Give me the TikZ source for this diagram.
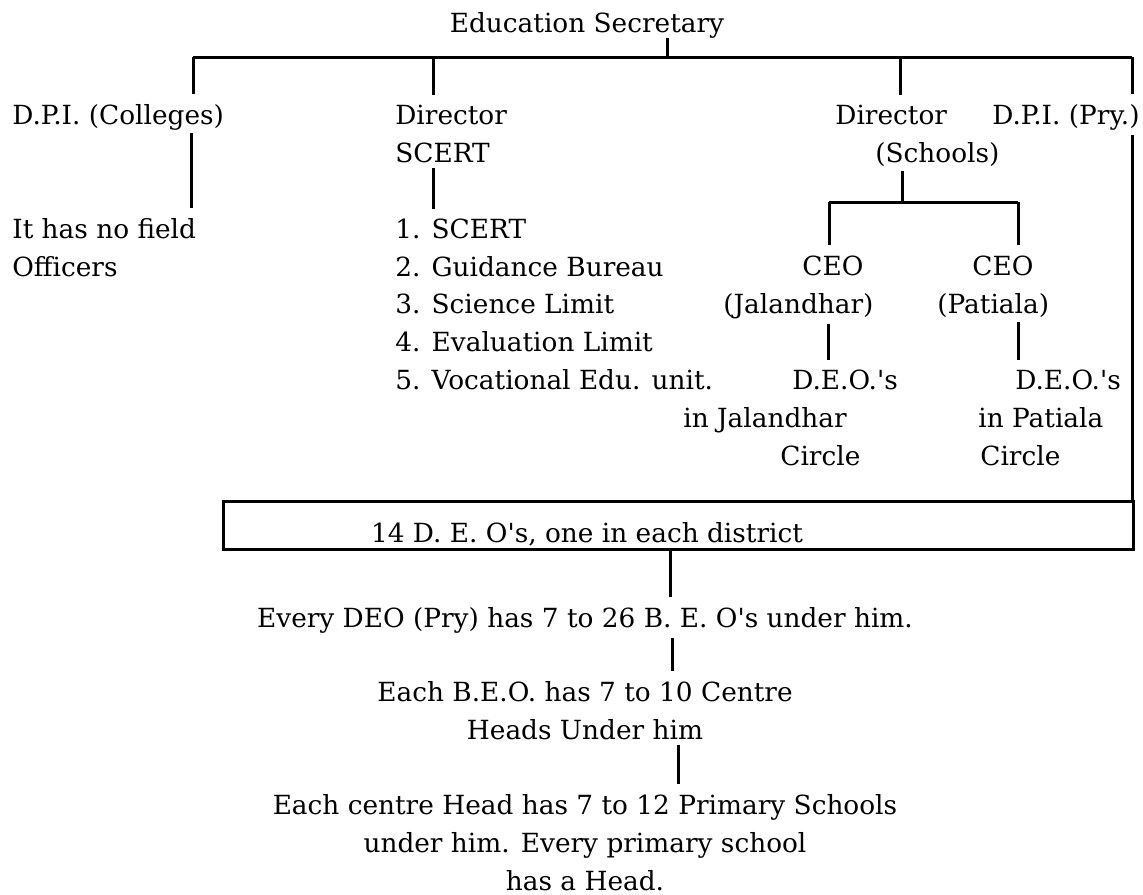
\documentclass[tikz,border=0pt]{standalone}
\usepackage{fontspec}
\setmainfont{DejaVu Serif}
\begin{document}
\begin{tikzpicture}[x=0.2mm,y=-0.2mm,font=\fontsize{15}{21.4}\selectfont]
    \tikzstyle{lbl}=[inner sep=0pt,anchor=base west,align=left]
    \tikzstyle{mid}=[inner sep=0pt,anchor=base,align=center]
    \tikzstyle{tie}=[line width=0.6mm]
    \useasboundingbox (0,0) rectangle (1143,894);

    % texts (multi-line nodes sit on the baseline of their last line)
    \node[mid] (sec) at (587,32) {Education Secretary};
    \node[lbl] (dpic) at (12,124) {D.P.I. (Colleges)};
    \node[lbl] (dirS) at (395,162) {Director\\SCERT};
    \node[lbl] (dirC) at (835,162) {Director\\\hspace*{8mm}(Schools)};
    \node[lbl] (dpip) at (992,124) {D.P.I. (Pry.)};
    \node[lbl] (nofield) at (12,276) {It has no field\\Officers};
    \node[lbl] (units) at (395,389) {1. SCERT\\2. Guidance Bureau\\3. Science Limit\\4. Evaluation Limit\\5. Vocational Edu. unit.};
    \node[lbl] (ceoJ) at (723,313) {\hspace*{15.8mm}CEO\\(Jalandhar)};
    \node[lbl] (ceoP) at (937,313) {\hspace*{7mm}CEO\\(Patiala)};
    \node[lbl] (deoJ) at (683,465) {\hspace*{21.8mm}D.E.O.\textquotesingle s\\in Jalandhar\\\hspace*{19.4mm}Circle};
    \node[lbl] (deoP) at (978,465) {\hspace*{7.4mm}D.E.O.\textquotesingle s\\in Patiala\\\hspace*{0.4mm}Circle};
    \node[draw,line width=0.6mm,inner sep=0pt,minimum width=181.8mm,minimum height=9.6mm] (distbox) at (678.5,525) {};
    \node[mid] (dist) at (587,542) {14 D. E. O\textquotesingle s, one in each district};
    \node[mid] (every) at (585,627) {Every DEO (Pry) has 7 to 26 B. E. O\textquotesingle s under him.};
    \node[mid] (beo) at (585,739) {Each B.E.O. has 7 to 10 Centre\\Heads Under him};
    \node[mid] (centre) at (585,890) {Each centre Head has 7 to 12 Primary Schools\\under him. Every primary school\\has a Head.};

    % top bus
    \coordinate (busT) at (667,57);
    \coordinate (busA) at (193,57);
    \coordinate (busB) at (433,57);
    \coordinate (busC) at (900,57);
    \coordinate (busD) at (1132,57);
    \draw[tie] (busA) -- (busD);
    \draw[tie] (sec.south -| busT) -- (busT);
    \foreach \c/\n in {busA/dpic,busB/dirS,busC/dirC,busD/dpip}
        \draw[tie,shorten >=2mm] (\c) -- (\c |- \n.north);

    % second level
    \coordinate (colA) at (191,0);
    \draw[tie,shorten <=0.6mm,shorten >=2mm] (dpic.south -| colA) -- (nofield.north -| colA);
    \draw[tie,shorten <=1mm,shorten >=2mm] (dirS.south -| busB) -- (units.north -| busB);
    \coordinate (jn) at (902,202);
    \coordinate (jnL) at (829,202);
    \coordinate (jnR) at (1018,202);
    \draw[tie,shorten <=1mm] (dirC.south -| jn) -- (jn);
    \draw[tie] (jnL) -- (jnR);
    \draw[tie,shorten >=2mm] (jnL) -- (jnL |- ceoJ.north);
    \draw[tie,shorten >=2mm] (jnR) -- (jnR |- ceoP.north);
    \coordinate (colJ) at (828,0);
    \coordinate (colP) at (1018,0);
    \draw[tie,shorten <=1mm,shorten >=2mm] (ceoJ.south -| colJ) -- (deoJ.north -| colJ);
    \draw[tie,shorten <=1mm,shorten >=2mm] (ceoP.south -| colP) -- (deoP.north -| colP);
    \draw[tie,shorten <=1mm] (dpip.south -| busD) -- (busD |- distbox.north);

    % lower chain
    \coordinate (colE) at (670,0);
    \coordinate (colF) at (672,0);
    \coordinate (colG) at (678,0);
    \draw[tie,shorten >=2mm] (distbox.south -| colE) -- (every.north -| colE);
    \draw[tie,shorten <=1mm,shorten >=2mm] (every.south -| colF) -- (beo.north -| colF);
    \draw[tie,shorten <=1mm,shorten >=2mm] (beo.south -| colG) -- (centre.north -| colG);
\end{tikzpicture}
\end{document}
